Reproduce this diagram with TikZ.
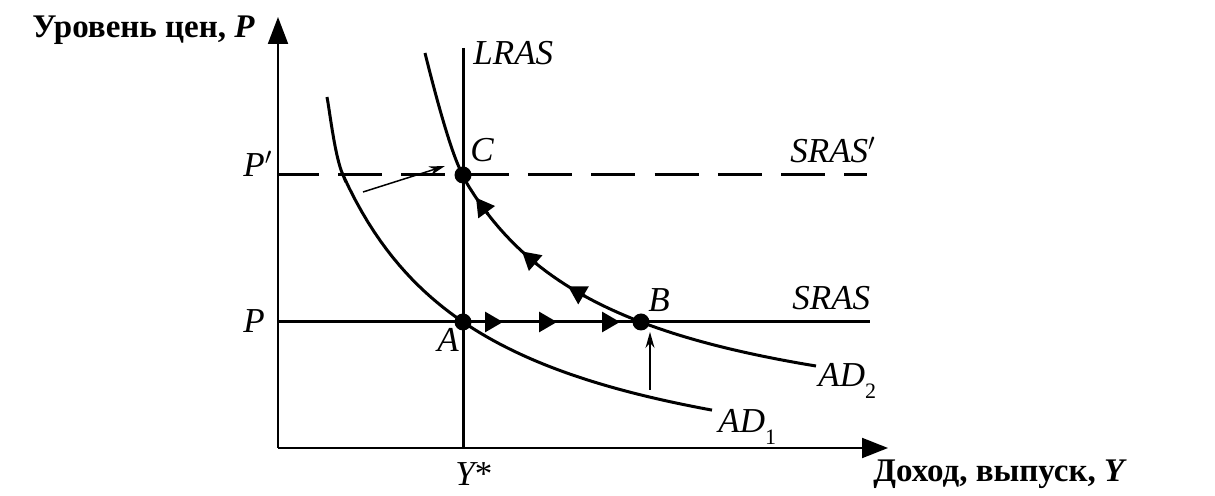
\documentclass[tikz,border=0pt]{standalone}
\usepackage{fontspec}
\setmainfont{Liberation Serif}
\usetikzlibrary{arrows.meta}
\newcommand{\lowsub}[1]{\raisebox{-0.32em}{\fontsize{11}{11}\selectfont\upshape #1}}
\begin{document}
\begin{tikzpicture}[x=5pt,y=-5pt,
  axis/.style={line width=1pt},
  curve/.style={line width=1.5pt},
  lbl/.style={inner sep=0pt, anchor=base west, font=\fontsize{17.5}{20}\selectfont\itshape},
  title/.style={inner sep=0pt, anchor=base west, font=\fontsize{16.5}{20}\selectfont\bfseries},
  dot/.style={circle, fill, inner sep=0pt, minimum size=8.5pt},
  flow/.style={line width=1.5pt, -{Triangle[length=9pt,width=10pt]}},
  thinarrow/.style={line width=0.75pt, -{Stealth[length=8pt,width=4.5pt]}}
]
\useasboundingbox (0,0) rectangle (121.5,49.6);
% axes
\coordinate (O) at (27.8,44.8);
\coordinate (Ytop) at (27.8,1.7);
\coordinate (Xend) at (88.8,44.8);
\draw[axis, -{Triangle[length=13.5pt,width=10pt]}] (O) -- (Ytop);
\draw[axis, -{Triangle[length=13pt,width=10pt]}] (O) -- (Xend);
% LRAS
\coordinate (Ltop) at (46.3,4.8);
\coordinate (Lbot) at (46.3,44.8);
\draw[curve] (Ltop) -- (Lbot);
% SRAS
\coordinate (S0) at (27.8,32.2);
\coordinate (S1) at (87.0,32.2);
\draw[curve] (S0) -- (S1);
% SRAS'
\coordinate (T0) at (27.8,17.5);
\coordinate (T1) at (86.7,17.5);
\draw[curve, dash pattern=on 22pt off 9.65pt, dash phase=1.65pt] (T0) -- (T1);
% AD1
\draw[curve] (32.7,9.7) .. controls (33.0,11.3) and (33.5,15.74) .. (34.3,17.5)
  -- plot[domain=34.3:71.2, samples=60] (\x,{50.57-496.12/(\x-19.3)});
% AD2
\draw[curve] (42.5,5.3) .. controls (42.9,6.9) and (45.0,15.39) .. (46.3,17.5)
  -- plot[domain=46.3:81.6, samples=60] (\x,{45.03-429.98/(\x-30.58)});
% points
\node[dot] (A) at (46.3,32.2) {};
\node[dot] (B) at (64.1,32.2) {};
\node[dot] (C) at (46.3,17.5) {};
% flow arrows on SRAS
\draw[flow] (48.2,32.2) -- (50.3,32.2);
\draw[flow] (53.6,32.2) -- (55.7,32.2);
\draw[flow] (59.9,32.2) -- (62.0,32.2);
% flow arrows on AD2
\draw[flow] (48.8,21.4) -- (47.6,19.77);
\draw[flow] (53.7,26.43) -- (52.2,25.14);
\draw[flow] (58.5,29.63) -- (56.8,28.63);
% thin arrows
\coordinate (c1) at (36.3,19.2);
\coordinate (c2) at (44.5,16.6);
\draw[thinarrow] (c1) -- (c2);
\coordinate (b1) at (65.0,39.0);
\coordinate (b2) at (65.0,33.2);
\draw[thinarrow] (b1) -- (b2);
% labels
\node[lbl] (lLRAS) at (47.3,6.5) {LRAS};
\node[lbl] (lC) at (47.0,16.2) {C};
\node[lbl] (lSRASp) at (79.0,16.3) {SRAS$'$};
\node[lbl] (lSRAS) at (79.2,31.0) {SRAS};
\node[lbl] (lB) at (64.8,31.2) {B};
\node[lbl] (lA) at (43.7,35.2) {A};
\node[lbl] (lAD2) at (81.8,38.7) {AD\lowsub{2}};
\node[lbl] (lAD1) at (71.8,43.3) {AD\lowsub{1}};
\node[lbl] (lP) at (24.3,33.3) {P};
\node[lbl] (lPp) at (24.3,17.7) {P$'$};
\node[lbl] (lY) at (45.5,48.6) {Y\upshape *};
\node[title] (ty) at (3.2,3.8) {Уровень цен, \textit{P}};
\node[title] (tx) at (87.3,48.2) {Доход, выпуск, \textit{Y}};
\end{tikzpicture}
\end{document}
